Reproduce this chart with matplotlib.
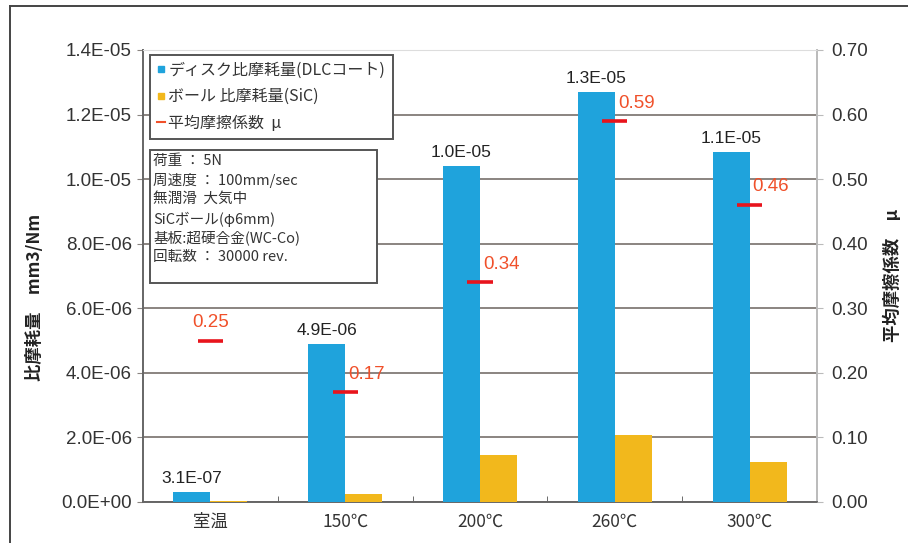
#!/usr/bin/env python3
from matplotlib import pyplot as plt
from matplotlib.lines import Line2D
from matplotlib.patches import Rectangle
from matplotlib.ticker import FuncFormatter, FixedLocator
import numpy as np

plt.rcParams['font.family'] = ['Noto Sans CJK JP', 'DejaVu Sans']
num_font = ['Liberation Sans', 'DejaVu Sans']

temps = ['室温', '150℃', '200℃', '260℃', '300℃']
disk_wear = [0.31e-06, 4.9e-06, 1.04e-05, 1.27e-05, 1.085e-05]
ball_wear = [0.03e-06, 0.24e-06, 1.45e-06, 2.08e-06, 1.25e-06]
mu = [0.25, 0.17, 0.34, 0.59, 0.46]
disk_labels = ['3.1E-07', '4.9E-06', '1.0E-05', '1.3E-05', '1.1E-05']
mu_labels = ['0.25', '0.17', '0.34', '0.59', '0.46']
conditions = ['荷重 ： 5N', '周速度 ： 100mm/sec', '無潤滑  大気中',
              'SiCボール(φ6mm)', '基板:超硬合金(WC-Co)', '回転数 ： 30000 rev.']

blue = '#1fa3dc'
orange = '#f2b81c'
red = '#e8141c'
mu_text = '#f0502a'
grid = '#8a8480'

fig = plt.figure(figsize=(9.08, 5.43), dpi=100)
ax = fig.add_axes([143/908, 1-502/543, 674/908, 452/543])
x = np.arange(len(temps))
w = 0.275
ax.bar(x - w/2, disk_wear, width=w, color=blue, zorder=3)
ax.bar(x + w/2, ball_wear, width=w, color=orange, zorder=3)
ax.set_xlim(-0.5, 4.5)
ax.set_ylim(0, 1.4e-05)
ax.set_yticks(np.arange(0, 1.41e-05, 2e-06))
ax.yaxis.set_major_formatter(FuncFormatter(lambda v, p: f"{v:.1E}"))
ax.yaxis.grid(True, color=grid, lw=1.4, zorder=0)
ax.set_xticks(x)
ax.set_xticklabels(temps, fontsize=12.5, color='#333333')
ax.xaxis.set_minor_locator(FixedLocator([0.5, 1.5, 2.5, 3.5]))
ax.tick_params(axis='x', which='major', length=0, pad=8)
ax.tick_params(axis='x', which='minor', direction='in', length=4, color='#555555')
ax.tick_params(axis='y', length=4, color=grid, labelsize=13.5, labelcolor='#333333', pad=4)
for t in ax.get_yticklabels():
    t.set_family(num_font)
for s in ['left', 'bottom']:
    ax.spines[s].set_color('#666666')
    ax.spines[s].set_linewidth(1.4)
ax.spines['top'].set_color('#dddddd')
ax.spines['right'].set_color('#bbbbbb')
ax.spines['right'].set_linewidth(1.4)
ax.set_axisbelow(True)

for xi, v, lab in zip(x, disk_wear, disk_labels):
    ax.annotate(lab, (xi - w/2, v), xytext=(0, 6), textcoords='offset pixels',
                ha='center', va='bottom', fontsize=12.5, color='#222222', family=num_font)

ax2 = ax.twinx()
ax2.set_ylim(0, 0.7)
ax2.set_yticks(np.arange(0, 0.71, 0.1))
ax2.yaxis.set_major_formatter(FuncFormatter(lambda v, p: f"{v:.2f}"))
ax2.tick_params(axis='y', length=4, color='#bbbbbb', labelsize=13.5, labelcolor='#333333', pad=6)
for t in ax2.get_yticklabels():
    t.set_family(num_font)
for s in ax2.spines.values():
    s.set_visible(False)
ax2.hlines(mu, x - 0.093, x + 0.093, color=red, lw=2.6, zorder=5)
for i, (xi, v, lab) in enumerate(zip(x, mu, mu_labels)):
    if i == 0:
        ax2.annotate(lab, (xi, v), xytext=(0, 18), textcoords='offset pixels',
                     ha='center', va='center', fontsize=13.5, color=mu_text, family=num_font)
    else:
        ax2.annotate(lab, (xi, v), xytext=(3, 18), textcoords='offset pixels',
                     ha='left', va='center', fontsize=13.5, color=mu_text, family=num_font)

fig.text(35/908, 1-297/543, '比摩耗量　mm3/Nm', rotation=90, ha='center', va='center',
         fontsize=12.5, fontweight='bold', color='#222222')
fig.text(893/908, 1-275/543, '平均摩擦係数　μ', rotation=90, ha='center', va='center',
         fontsize=12.5, fontweight='bold', color='#222222')

handles = [Line2D([], [], marker='s', ls='none', color=blue, markersize=5),
           Line2D([], [], marker='s', ls='none', color=orange, markersize=5),
           Line2D([], [], color=mu_text, lw=1.5)]
leg = ax2.legend(handles, ['ディスク比摩耗量(DLCコート)', 'ボール 比摩耗量(SiC)', '平均摩擦係数  μ'],
                 loc='upper left', bbox_to_anchor=(0.0105, 0.99), fontsize=11.5,
                 handlelength=0.5, handletextpad=0.2, borderpad=0.45, labelspacing=0.6,
                 fancybox=False, framealpha=1, edgecolor='#555555', borderaxespad=0)
leg.get_frame().set_linewidth(1.4)
for t in leg.get_texts():
    t.set_color('#333333')

# conditions box
bx0, bx1 = (150-143)/674, (377-143)/674
by0, by1 = (502-283)/452, (502-150)/452
ax2.add_patch(Rectangle((bx0, by0), bx1 - bx0, by1 - by0, transform=ax2.transAxes,
                        facecolor='white', edgecolor='#555555', lw=1.4, zorder=6))
for k, line in enumerate(conditions):
    ax2.text(bx0 + 0.005, by1 - 0.008 - k * 0.0427, line, transform=ax2.transAxes,
             ha='left', va='top', fontsize=10.5, color='#333333', zorder=7)

# outer frame (left and top only visible)
fig.add_artist(Line2D([10/908, 10/908], [0, 1-6/543], color='#444444', lw=1.4))
fig.add_artist(Line2D([10/908, 1], [1-6/543, 1-6/543], color='#444444', lw=1.4))

fig.savefig('out.png', dpi=100)
